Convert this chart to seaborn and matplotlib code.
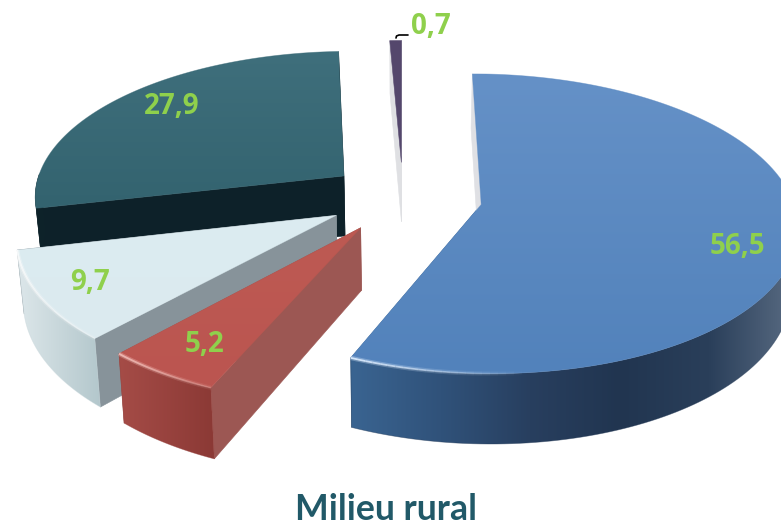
import numpy as np
import pandas as pd
import seaborn as sns
import matplotlib
matplotlib.use("Agg")
import matplotlib.pyplot as plt
from matplotlib.patches import Polygon
from matplotlib.collections import LineCollection

# values, clockwise from 12 o'clock
names = ["bleu", "rouge", "clair", "sarcelle", "violet"]
values = [56.5, 5.2, 9.7, 27.9, 0.7]
labels = ["56,5", "5,2", "9,7", "27,9", "0,7"]
title = "Milieu rural"

# camera / shape of the exploded 3D pie (pixels)
cx, cy = 403, 197
rx, ry = 311, 145.5
persp = 0.127
explode = [0.255, 0.245, 0.245, 0.243, 0.245]
height = 61
converge = 0.018

top_colors = [["#6591c7", "#5282bb"], ["#bd5a53", "#bb5550"], ["#dcecf1", "#dbeaef"],
              ["#3f6f7c", "#33636f"], ["#54476c", "#54476c"]]
side_colors = [["#3a6491", "#30527a", "#283f5f", "#213550", "#2a3f5a", "#5b6d84"],
               ["#a54c47", "#8b3935"], ["#dde7ea", "#b3c7cc"],
               ["#0d2229", "#0d2229"], ["#dfe0e3", "#dfe0e3"]]
start_face = ["#dfe0e4", "#9c5753", "#87939a", "#0d2129", "#dfe0e3"]
end_face = ["#3a6491", "#9c5753", "#87939a", "#0d2129", "#dfe0e3"]
rim_color = ["#d5e6f9", "#fbcbc5", "#ffffff", None, None]
rim_span = [(0.86, 1.0), (0.0, 1.0), (0.0, 1.0), None, None]
label_xy = [(737, 246), (204, 345), (90, 282), (172, 106), (431, 26)]

df = pd.DataFrame({"name": names, "value": values, "label": labels})
df["stop"] = df["value"].cumsum() / df["value"].sum() * 2 * np.pi
df["start"] = df["stop"].shift(1, fill_value=0.0)
df["mid"] = (df["start"] + df["stop"]) / 2
df["explode"] = explode


def project(u, v, z=0.0):
    s = 1 / (1 - persp * v)
    x = (cx + rx * u * s)
    y = cy + ry * v * s + z * height * s
    x = cx + (x - cx) * (1 - converge * z)
    return np.column_stack([x, y])


sns.set_theme(style="white")
plt.rcParams["font.family"] = ["Open Sans", "DejaVu Sans"]
fig = plt.figure(figsize=(7.81, 5.26), dpi=100)
ax = fig.add_axes([0, 0, 1, 1])
ax.set_autoscale_on(False)
ax.set_xlim(0, 781)
ax.set_ylim(526, 0)
ax.axis("off")

order = [0]


def next_z():
    order[0] += 1
    return order[0]


def grad_fill(pts, colors, axis="y"):
    z = next_z()
    if colors[0] == colors[-1]:
        ax.add_patch(Polygon(pts, closed=True, fc=colors[0], ec=colors[0], lw=0.4, zorder=z))
        return
    poly = Polygon(pts, closed=True, fc="none", ec="none", zorder=z)
    ax.add_patch(poly)
    cmap = sns.blend_palette(colors, as_cmap=True)
    ramp = np.linspace(0, 1, 256)
    arr = ramp[:, None] if axis == "y" else ramp[None, :]
    x0, y0 = pts.min(axis=0)
    x1, y1 = pts.max(axis=0)
    im = ax.imshow(arr, extent=[x0, x1, y1, y0], aspect="auto", cmap=cmap, zorder=z,
                   interpolation="bilinear")
    im.set_clip_path(poly)
    # soften the hard clip edge
    mid = cmap(0.5)
    ax.add_patch(Polygon(pts, closed=True, fc="none", ec=mid, lw=0.5, alpha=0.5, zorder=z))
    ax.set_xlim(0, 781)
    ax.set_ylim(526, 0)


# painter's order: back slices first
for i in [3, 4, 2, 1, 0]:
    row = df.iloc[i]
    ou = row["explode"] * np.sin(row["mid"])
    ov = -row["explode"] * np.cos(row["mid"])
    theta = np.linspace(row["start"], row["stop"], 160)
    au = ou + np.sin(theta)
    av = ov - np.cos(theta)

    apex_t = project(np.array([ou]), np.array([ov]))
    apex_b = project(np.array([ou]), np.array([ov]), 1)

    # cut faces
    for k, col in ((-1, end_face[i]), (0, start_face[i])):
        a_t = project(au[[k]], av[[k]])
        a_b = project(au[[k]], av[[k]], 1)
        grad_fill(np.vstack([apex_t, a_t, a_b, apex_b]), [col, col])

    # outer wall, only the part turned to the viewer
    front = np.cos(theta) < 0.02
    if front.sum() > 1:
        t = project(au[front], av[front])
        b = project(au[front], av[front], 1)
        grad_fill(np.vstack([t, b[::-1]]), side_colors[i], axis="x")

    # top
    arc = project(au, av)
    grad_fill(np.vstack([apex_t, arc]), top_colors[i])

    # bevel highlight along the rim: wide soft band + thin bright line
    if rim_color[i] is not None:
        lo, hi = rim_span[i]
        n = len(arc) - 1
        frac = np.linspace(0, 1, n)
        segs = np.stack([arc[:-1], arc[1:]], axis=1)
        keep = (frac >= lo) & (frac <= hi)
        fade = (frac - lo).clip(0) / (hi - lo)
        base = 0.0 if i == 0 else 0.25
        for width, strength in ((3.2, 0.35), (1.3, 1.0)):
            rgba = np.tile(matplotlib.colors.to_rgba(rim_color[i]), (n, 1))
            rgba[:, 3] = strength * (base + (1 - base) * fade)
            lc = LineCollection(segs[keep], colors=rgba[keep], linewidths=width, zorder=next_z())
            ax.add_collection(lc)

ax.plot([396, 396.5, 399, 408], [38, 36, 35, 35], color="black", lw=1.2, zorder=next_z())

for (x, y), lab in zip(label_xy, df["label"]):
    ax.text(x, y, lab, color="#8fd04c", fontsize=20, fontweight="bold",
            ha="center", va="center", zorder=next_z())

ax.text(386, 509, title, color="#215968", fontsize=25.7, fontweight="bold", family=["Lato", "DejaVu Sans"],
        ha="center", va="center", zorder=next_z())

fig.savefig("out.png", dpi=100, facecolor="white")
